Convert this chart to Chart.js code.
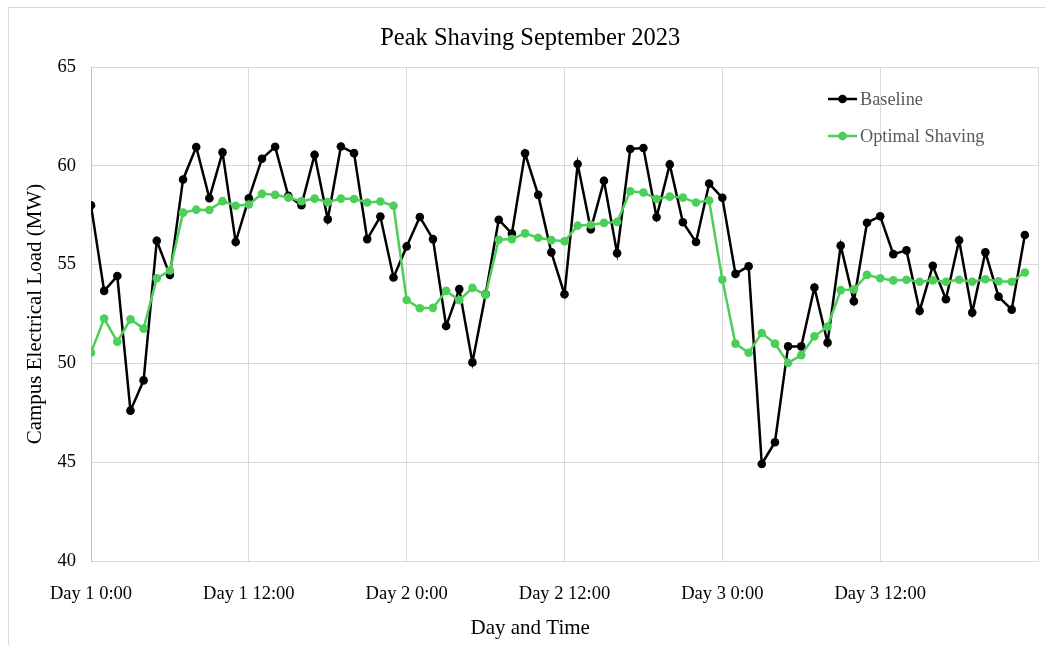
<!DOCTYPE html>
<html>
<head>
<meta charset="utf-8">
<script src="https://cdn.jsdelivr.net/npm/chart.js@4.4.1/dist/chart.umd.min.js"></script>
<style>
  html, body { margin: 0; padding: 0; background: #ffffff; }
  #wrap { width: 1045px; height: 645px; }
</style>
</head>
<body>
<div id="wrap"><canvas id="c" width="1045" height="645"></canvas></div>
<script>
// ---- data ----
const chartTitle = "Peak Shaving September 2023";
const xTitle = "Day and Time";
const yTitle = "Campus Electrical Load (MW)";
const seriesNames = ["Baseline", "Optimal Shaving"];

const hours = [
  0, 1, 2, 3, 4, 5, 6, 7, 8, 9, 10, 11,
  12, 13, 14, 15, 16, 17, 18, 19, 20, 21, 22, 23,
  24, 25, 26, 27, 28, 29, 30, 31, 32, 33, 34, 35,
  36, 37, 38, 39, 40, 41, 42, 43, 44, 45, 46, 47,
  48, 49, 50, 51, 52, 53, 54, 55, 56, 57, 58, 59,
  60, 61, 62, 63, 64, 65, 66, 67, 68, 69, 70, 71
];

const tickLabels = ["Day 1 0:00", "Day 1 12:00", "Day 2 0:00", "Day 2 12:00", "Day 3 0:00", "Day 3 12:00"];

const baseline = [
  58.0, 53.67, 54.42, 47.61, 49.14, 56.21, 54.47, 59.31, 60.95, 58.36, 60.68, 56.14,
  58.36, 60.36, 60.96, 58.48, 58.0, 60.56, 57.29, 60.98, 60.64, 56.29, 57.43, 54.35,
  55.92, 57.41, 56.29, 51.89, 53.76, 50.05, 53.5, 57.27, 56.57, 60.63, 58.53, 55.62,
  53.5, 60.09, 56.79, 59.24, 55.58, 60.85, 60.9, 57.4, 60.07, 57.14, 56.14, 59.1,
  58.38, 54.53, 54.92, 44.91, 46.01, 50.86, 50.86, 53.84, 51.05, 55.96, 53.15, 57.12,
  57.45, 55.53, 55.72, 52.66, 54.94, 53.25, 56.23, 52.57, 55.62, 53.38, 52.72, 56.5
];

const optimal = [
  50.54, 52.27, 51.1, 52.23, 51.76, 54.31, 54.7, 57.63, 57.78, 57.76, 58.21, 57.98,
  58.04, 58.58, 58.53, 58.39, 58.21, 58.34, 58.16, 58.34, 58.32, 58.14, 58.19, 57.98,
  53.21, 52.79, 52.81, 53.67, 53.2, 53.82, 53.47, 56.26, 56.29, 56.58, 56.36, 56.24,
  56.18, 56.97, 57.02, 57.11, 57.16, 58.71, 58.65, 58.32, 58.44, 58.39, 58.14, 58.24,
  54.24, 51.0, 50.54, 51.54, 51.0, 50.02, 50.42, 51.37, 51.86, 53.71, 53.74, 54.48,
  54.31, 54.2, 54.23, 54.13, 54.2, 54.13, 54.23, 54.13, 54.26, 54.16, 54.13, 54.6
];

// ---- styling ----
const SERIF = "'Liberation Serif', 'Times New Roman', 'DejaVu Serif', serif";
const BLACK = "#000000";
const GREEN = "#4ccf58";
const GRID = "#d9d9d9";
const CLEAR = "rgba(0,0,0,0)";

// white background + outer frame (only top/left edge visible in the crop)
const framePlugin = {
  id: 'frame',
  beforeDraw(chart) {
    const ctx = chart.ctx;
    ctx.save();
    ctx.fillStyle = '#ffffff';
    ctx.fillRect(0, 0, chart.width, chart.height);
    ctx.strokeStyle = GRID;
    ctx.lineWidth = 1;
    ctx.strokeRect(8.5, 7.5, chart.width + 20, chart.height + 20);
    ctx.restore();
  }
};

// legend drawn inside the plot area, top-right (Excel style)
const insideLegend = {
  id: 'insideLegend',
  afterDatasetsDraw(chart) {
    const ctx = chart.ctx;
    const area = chart.chartArea;
    ctx.save();
    ctx.font = "18.3px " + SERIF;
    ctx.textBaseline = 'middle';
    ctx.textAlign = 'left';
    chart.data.datasets.forEach((ds, i) => {
      const y = area.top + 32 + i * 37;
      const x0 = area.right - 210;
      const x1 = area.right - 181;
      ctx.strokeStyle = ds.borderColor;
      ctx.lineWidth = ds.borderWidth;
      ctx.beginPath();
      ctx.moveTo(x0, y);
      ctx.lineTo(x1, y);
      ctx.stroke();
      ctx.fillStyle = ds.backgroundColor;
      ctx.beginPath();
      ctx.arc((x0 + x1) / 2, y, 4.3, 0, Math.PI * 2);
      ctx.fill();
      ctx.fillStyle = '#595959';
      ctx.fillText(ds.label, x1 + 3, y + 1);
    });
    ctx.restore();
  }
};

new Chart(document.getElementById('c'), {
  type: 'line',
  data: {
    labels: hours,
    datasets: [
      {
        label: seriesNames[0],
        data: baseline,
        borderColor: BLACK,
        backgroundColor: BLACK,
        borderWidth: 2.5,
        pointRadius: 4.3,
        pointHoverRadius: 4.3,
        pointBackgroundColor: BLACK,
        pointBorderWidth: 0,
        tension: 0,
        order: 2
      },
      {
        label: seriesNames[1],
        data: optimal,
        borderColor: GREEN,
        backgroundColor: GREEN,
        borderWidth: 2.5,
        pointRadius: 4.3,
        pointHoverRadius: 4.3,
        pointBackgroundColor: GREEN,
        pointBorderWidth: 0,
        tension: 0,
        order: 1
      }
    ]
  },
  options: {
    responsive: false,
    animation: false,
    layout: { padding: { left: 22.4, right: 7, top: 7, bottom: 0 } },
    plugins: {
      legend: { display: false },
      tooltip: { enabled: false },
      title: {
        display: true,
        text: chartTitle,
        color: '#000000',
        font: { family: SERIF, size: 24.5, weight: 'normal' },
        padding: { top: 17, bottom: 13.6 }
      },
      subtitle: {
        display: true,
        position: 'bottom',
        text: xTitle,
        color: '#000000',
        font: { family: SERIF, size: 21, weight: 'normal' },
        padding: { top: 10.2, bottom: 4.4 }
      }
    },
    scales: {
      x: {
        type: 'linear',
        min: 0,
        max: 72,
        grid: { color: GRID, lineWidth: 1, drawTicks: true, tickLength: 22, tickColor: CLEAR },
        border: { color: GRID, width: 1 },
        ticks: {
          stepSize: 12,
          autoSkip: false,
          maxRotation: 0,
          padding: 0,
          color: '#000000',
          font: { family: SERIF, size: 18.5 },
          callback: (v) => tickLabels[v / 12] || ''
        }
      },
      y: {
        min: 40,
        max: 65,
        grid: { color: GRID, lineWidth: 1, drawTicks: true, tickLength: 15, tickColor: CLEAR },
        border: { color: '#bfbfbf', width: 1 },
        ticks: {
          stepSize: 5,
          padding: 0,
          color: '#000000',
          font: { family: SERIF, size: 18.5 }
        },
        title: {
          display: true,
          text: yTitle,
          color: '#000000',
          font: { family: SERIF, size: 21 },
          padding: { top: 0, bottom: 9.9 }
        }
      }
    }
  },
  plugins: [framePlugin, insideLegend]
});
</script>
</body>
</html>
